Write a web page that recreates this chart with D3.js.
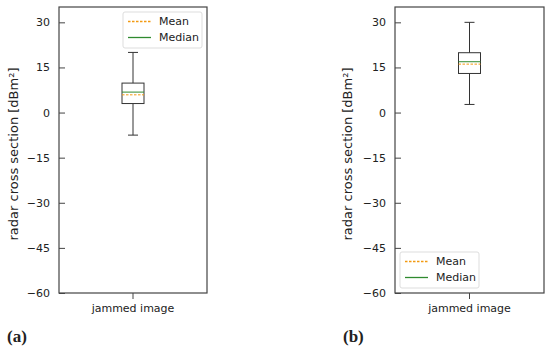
<!DOCTYPE html>
<html>
<head>
<meta charset="utf-8">
<script src="https://cdn.jsdelivr.net/npm/d3@7"></script>
<style>
  html, body { margin: 0; padding: 0; background: #fff; }
  svg { display: block; }
  text { font-family: "DejaVu Sans", sans-serif; fill: #222; }
</style>
</head>
<body>
<svg id="chart" width="550" height="350"></svg>
<script>
// ---- data ----
const categories = ["jammed image"];
const panelLabels = ["(a)", "(b)"];
const whiskerLow = [-7.5, 2.7];
const q1 = [3, 13];
const median = [6.8, 16.9];
const mean = [5.9, 16.1];
const q3 = [9.8, 19.9];
const whiskerHigh = [20, 30];
const yTicks = [30, 15, 0, -15, -30, -45, -60];
const yLabel = "radar cross section [dBm\u00B2]";
const legendLabels = ["Mean", "Median"];
const legendPlacement = ["top-right", "bottom-left"];

// ---- styles ----
const meanColor = "#f29a12";
const medianColor = "#2f8a2f";
const boxColor = "#333";
const spineColor = "#444";

const svg = d3.select("#chart");
const panels = [
  { left: 59, right: 207, labelX: 13, tagX: 7 },
  { left: 395, right: 544, labelX: 347, tagX: 343 }
];
const plotTop = 7, plotBottom = 293;

panels.forEach((p, i) => {
  const g = svg.append("g");
  const y = d3.scaleLinear().domain([-60, 35.1]).range([plotBottom, plotTop]);
  const x = d3.scaleBand().domain(categories).range([p.left, p.right]);

  // frame
  g.append("rect")
    .attr("x", p.left).attr("y", plotTop)
    .attr("width", p.right - p.left).attr("height", plotBottom - plotTop)
    .attr("fill", "none").attr("stroke", spineColor).attr("stroke-width", 1.2);

  // y axis (ticks inward)
  const yAxis = d3.axisRight(y).tickValues(yTicks).tickSize(6)
    .tickFormat(d => d < 0 ? "\u2212" + Math.abs(d) : d);
  const ya = g.append("g").attr("transform", `translate(${p.left},0)`).call(yAxis);
  ya.select(".domain").remove();
  ya.selectAll(".tick line").attr("stroke", spineColor).attr("stroke-width", 1);
  ya.selectAll(".tick text")
    .attr("x", -9).attr("text-anchor", "end")
    .style("font-size", "11px").style("font-family", "DejaVu Sans, sans-serif").attr("fill", "#222");

  // x axis (ticks outward)
  const xAxis = d3.axisBottom(x).tickSize(6).tickPadding(5);
  const xa = g.append("g").attr("transform", `translate(0,${plotBottom})`).call(xAxis);
  xa.select(".domain").remove();
  xa.selectAll(".tick line").attr("stroke", spineColor).attr("stroke-width", 1);
  xa.selectAll(".tick text")
    .style("font-size", "11px").style("font-family", "DejaVu Sans, sans-serif").attr("fill", "#222");

  // y label
  g.append("text")
    .attr("transform", `translate(${p.labelX},${(plotTop + plotBottom) / 2 + 4}) rotate(-90)`)
    .attr("text-anchor", "middle").attr("dominant-baseline", "central")
    .style("font-size", "13px")
    .text(yLabel);

  // box plot
  const cx = x(categories[0]) + x.bandwidth() / 2;
  const bw = 22, cap = 10;
  const bx = g.append("g");
  bx.append("line").attr("x1", cx).attr("x2", cx)
    .attr("y1", y(whiskerHigh[i])).attr("y2", y(q3[i]))
    .attr("stroke", boxColor).attr("stroke-width", 1);
  bx.append("line").attr("x1", cx).attr("x2", cx)
    .attr("y1", y(q1[i])).attr("y2", y(whiskerLow[i]))
    .attr("stroke", boxColor).attr("stroke-width", 1);
  [whiskerHigh[i], whiskerLow[i]].forEach(v => {
    bx.append("line").attr("x1", cx - cap / 2).attr("x2", cx + cap / 2)
      .attr("y1", y(v)).attr("y2", y(v))
      .attr("stroke", boxColor).attr("stroke-width", 1);
  });
  bx.append("rect").attr("x", cx - bw / 2).attr("y", y(q3[i]))
    .attr("width", bw).attr("height", y(q1[i]) - y(q3[i]))
    .attr("fill", "none").attr("stroke", boxColor).attr("stroke-width", 1);
  bx.append("line").attr("x1", cx - bw / 2).attr("x2", cx + bw / 2)
    .attr("y1", y(median[i])).attr("y2", y(median[i]))
    .attr("stroke", medianColor).attr("stroke-width", 1);
  bx.append("line").attr("x1", cx - bw / 2).attr("x2", cx + bw / 2)
    .attr("y1", y(mean[i])).attr("y2", y(mean[i]))
    .attr("stroke", meanColor).attr("stroke-width", 1).attr("stroke-dasharray", "2.5,1.5");

  // legend
  const lw = 79, lh = 36;
  const lx = legendPlacement[i] === "top-right" ? p.right - 5 - lw : p.left + 5;
  const ly = legendPlacement[i] === "top-right" ? plotTop + 5 : plotBottom - 5 - lh;
  const lg = g.append("g").attr("transform", `translate(${lx},${ly})`);
  lg.append("rect").attr("width", lw).attr("height", lh).attr("rx", 2)
    .attr("fill", "#fff").attr("fill-opacity", 0.85).attr("stroke", "#ddd").attr("stroke-width", 1);
  legendLabels.forEach((lab, k) => {
    const yy = 9.5 + k * 16;
    lg.append("line").attr("x1", 5).attr("x2", 28).attr("y1", yy).attr("y2", yy)
      .attr("stroke", k === 0 ? meanColor : medianColor).attr("stroke-width", 1.3)
      .attr("stroke-dasharray", k === 0 ? "2.5,1.5" : null);
    lg.append("text").attr("x", 36).attr("y", yy).attr("dominant-baseline", "central")
      .style("font-size", "11px").text(lab);
  });

  // panel tag
  g.append("text").attr("x", p.tagX).attr("y", 336).attr("dominant-baseline", "central")
    .style("font-family", "'Liberation Serif', 'DejaVu Serif', serif")
    .style("font-size", "17px").style("font-weight", "bold")
    .text(panelLabels[i]);
});
</script>
</body>
</html>
